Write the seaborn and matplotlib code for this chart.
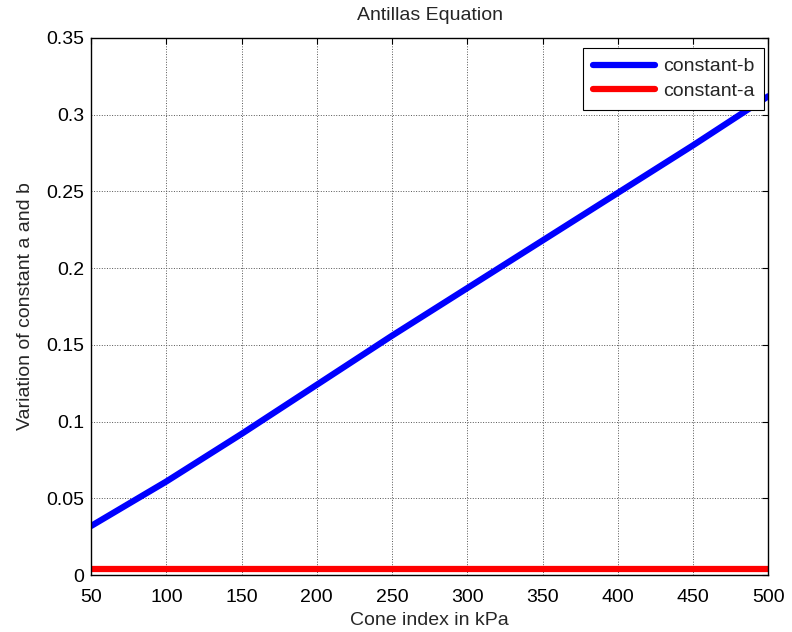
import numpy as np
import pandas as pd
import matplotlib
matplotlib.use('Agg')
import matplotlib.pyplot as plt
import seaborn as sns

# data
cone_index = [50, 100, 150, 200, 250, 300, 350, 400, 450, 500]
const_b = [0.032, 0.061, 0.092, 0.124, 0.156, 0.187, 0.218, 0.249, 0.280, 0.312]
const_a = [0.0038, 0.0038, 0.0038, 0.0038, 0.0038, 0.0038, 0.0038, 0.0038, 0.0038, 0.0038]

df = pd.DataFrame({
    'Cone index': cone_index * 2,
    'value': const_b + const_a,
    'series': ['constant-b'] * len(cone_index) + ['constant-a'] * len(cone_index),
})

sns.set_style('white')
plt.rcParams['font.family'] = ['Liberation Sans', 'DejaVu Sans']
plt.rcParams['font.size'] = 14

fig, ax = plt.subplots(figsize=(7.92, 6.32), dpi=100)
fig.subplots_adjust(left=0.115, right=0.970, top=0.940, bottom=0.090)

sns.lineplot(data=df, x='Cone index', y='value', hue='series',
             palette={'constant-b': '#0000ff', 'constant-a': '#ff0000'},
             linewidth=4.5, ax=ax)

ax.set_xlim(50, 500)
ax.set_ylim(0, 0.35)
ax.set_xticks(np.arange(50, 501, 50))
ax.set_yticks(np.arange(0, 0.351, 0.05))
ax.set_yticklabels(['0', '0.05', '0.1', '0.15', '0.2', '0.25', '0.3', '0.35'])
ax.grid(True, linestyle=':', color='#555555', linewidth=0.7)
ax.tick_params(direction='in', top=True, right=True, length=4, width=0.8,
               colors='black', labelsize=14)
ax.tick_params(axis='x', pad=10)
ax.tick_params(axis='y', pad=5)
for s in ax.spines.values():
    s.set_color('black')
    s.set_linewidth(1.0)

ax.set_title('Antillas Equation', fontsize=14, pad=13)
ax.set_xlabel('Cone index in kPa', fontsize=14, labelpad=4)
ax.set_ylabel('Variation of constant a and b', fontsize=14, labelpad=9)

leg = ax.legend(loc='upper right', bbox_to_anchor=(0.994, 0.981), borderaxespad=0,
                fancybox=False, framealpha=1, edgecolor='black',
                handlelength=3.2, handletextpad=0.4, labelspacing=0.35,
                borderpad=0.5, fontsize=14)
leg.get_frame().set_linewidth(0.8)

plt.savefig('out.png', dpi=100)
